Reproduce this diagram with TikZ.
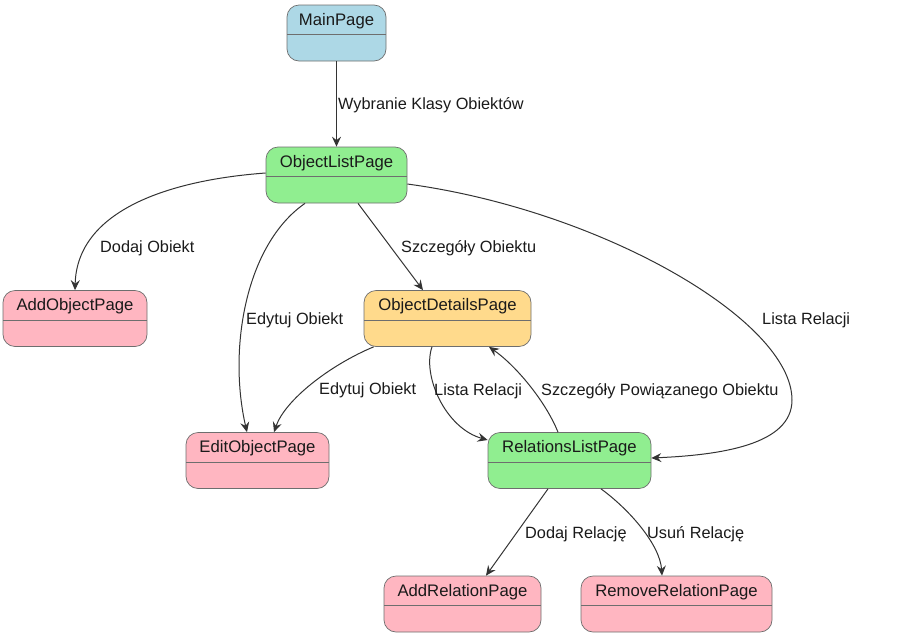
\documentclass[tikz,border=0pt]{standalone}
\usepackage{fontspec}
\setmainfont{Liberation Sans}
\usetikzlibrary{arrows.meta}
\definecolor{cblue}{HTML}{ADD8E6}
\definecolor{cgreen}{HTML}{90EE90}
\definecolor{cpink}{HTML}{FFB6C1}
\definecolor{corange}{HTML}{FFDA8C}
\definecolor{cborder}{HTML}{6E6E6E}
\definecolor{cedge}{HTML}{333333}
\definecolor{ctext}{HTML}{1A1A1A}
\tikzset{
  statebox/.style={draw=cborder, line width=0.7pt, rounded corners=12pt,
    minimum height=56pt, inner sep=0pt, text height=11.5pt, text depth=27.5pt,
    font=\fontsize{16.7}{19}\selectfont, text=ctext,
    path picture={\draw[cborder, line width=0.7pt]
      ([yshift=-1.5pt]path picture bounding box.west) -- ([yshift=-1.5pt]path picture bounding box.east);}},
  edge/.style={draw=cedge, line width=1pt, -{Stealth[length=10pt, width=9pt, inset=3.5pt]}},
  lbl/.style={anchor=west, inner sep=0pt, text height=11.5pt, text depth=0pt,
    font=\fontsize{16.3}{19}\selectfont, text=ctext}
}
\begin{document}
\begin{tikzpicture}[x=1pt, y=-1pt]
\useasboundingbox (0,0) rectangle (903,638);
% nodes
\node[statebox, fill=cblue, minimum width=99pt] (main) at (336.5,33) {MainPage};
\node[statebox, fill=cgreen, minimum width=141pt] (olp) at (336.5,175) {ObjectListPage};
\node[statebox, fill=cpink, minimum width=144pt] (addobj) at (75,318.5) {AddObjectPage};
\node[statebox, fill=corange, minimum width=167pt] (details) at (447.5,318.5) {ObjectDetailsPage};
\node[statebox, fill=cpink, minimum width=143pt] (edit) at (257.5,460.5) {EditObjectPage};
\node[statebox, fill=cgreen, minimum width=163pt] (rel) at (569.5,460.5) {RelationsListPage};
\node[statebox, fill=cpink, minimum width=157pt] (addrel) at (462.5,604) {AddRelationPage};
\node[statebox, fill=cpink, minimum width=191pt] (remrel) at (676.5,604) {RemoveRelationPage};
% edges
\draw[edge] (main) -- (olp);
\draw[edge] ([yshift=2pt]olp.west) .. controls (170,180) and (77,210) .. (addobj.north);
\draw[edge] ([xshift=-31.5pt]olp.south) .. controls (245,245) and (228,350) .. ([xshift=-10.5pt]edit.north);
\draw[edge] ([xshift=21.5pt]olp.south) -- ([xshift=-24.5pt]details.north);
\draw[edge] ([yshift=-9pt]olp.east) .. controls (600,210) and (792,320) .. (792,400)
   .. controls (792,445) and (720,455) .. ([yshift=2.5pt]rel.east);
\draw[edge] ([xshift=10pt]details.south west) .. controls (330,365) and (285,400) .. ([xshift=16.5pt]edit.north);
\draw[edge] ([xshift=-15.5pt]details.south) .. controls (422,375) and (445,428) .. ([yshift=20.5pt]rel.west);
\draw[edge] ([xshift=-11.5pt]rel.north) .. controls (545,400) and (515,365) .. ([xshift=41.5pt]details.south);
\draw[edge] ([xshift=-21.5pt]rel.south) -- ([xshift=23.5pt]addrel.north);
\draw[edge] ([xshift=31.5pt]rel.south) .. controls (630,510) and (660,545) .. ([xshift=-14.5pt]remrel.north);
% labels
\node[lbl] (l1) at (338,104) {Wybranie Klasy Obiektów};
\node[lbl] (l2) at (100,247) {Dodaj Obiekt};
\node[lbl] (l3) at (246,319) {Edytuj Obiekt};
\node[lbl] (l4) at (401,247) {Szczegóły Obiektu};
\node[lbl] (l5) at (762,319) {Lista Relacji};
\node[lbl] (l6) at (319,389) {Edytuj Obiekt};
\node[lbl] (l7) at (434,390) {Lista Relacji};
\node[lbl] (l8) at (541,390) {Szczegóły Powiązanego Obiektu};
\node[lbl] (l9) at (525,533) {Dodaj Relację};
\node[lbl] (l10) at (647,533) {Usuń Relację};
\end{tikzpicture}
\end{document}
